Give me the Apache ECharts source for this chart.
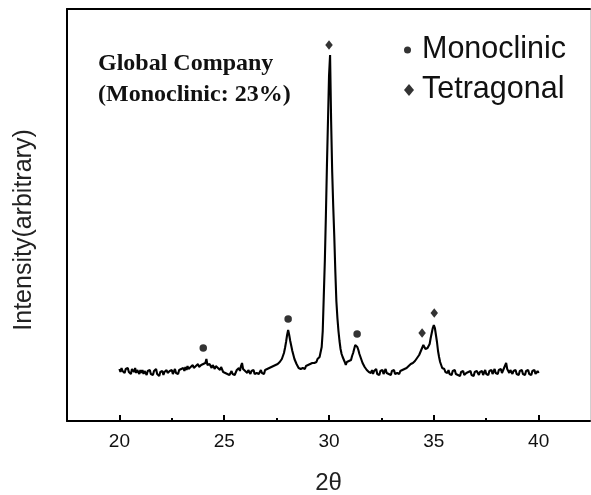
<!DOCTYPE html>
<html>
<head>
<meta charset="utf-8">
<script src="https://cdn.jsdelivr.net/npm/echarts@6/dist/echarts.min.js"></script>
<style>
  html, body { margin: 0; padding: 0; background: #fff; }
  #chart { width: 591px; height: 495px; }
</style>
</head>
<body>
<div id="chart"></div>
<script>
// XRD scan: 2θ from 20° to 40° in 0.05° steps, intensity in arbitrary units
const scanStart = 20;
const scanStep = 0.05;
const intensity = [
  52,49,53,50,51,48,52,50,53,49,51,47,52,50,49,53,48,51,50,47,   // 20
  51,48,51,47,50,49,46,50,48,51,47,49,46,50,48,52,47,49,45,49,   // 21
  48,50,46,49,47,51,48,46,50,48,51,47,49,52,48,50,47,51,49,52,   // 22
  50,53,50,54,51,55,52,50,54,52,56,53,51,55,53,57,54,52,56,54,   // 23
  57,55,58,62,56,54,57,55,53,56,54,52,55,57,53,55,51,54,52,49,   // 24
  51,48,50,47,49,46,48,50,47,49,46,48,51,49,53,50,55,58,52,54,   // 25
  50,52,48,51,49,47,50,48,51,47,49,48,50,47,49,51,48,50,47,51,   // 26
  49,52,50,53,51,54,52,55,53,56,54,57,56,59,58,62,64,68,73,79,   // 27
  86,91,86,80,75,70,66,62,60,57,55,53,55,52,54,53,55,52,55,54,   // 28
  56,54,57,55,58,57,58,60,59,62,61,64,66,74,90,125,160,205,255,300, // 29
  345,366,300,250,215,185,150,120,103,90,80,72,67,64,62,59,56,59,57,60, // 30
  62,61,65,68,72,76,78,74,71,67,64,61,58,56,54,53,51,52,49,51,   // 31
  48,51,47,50,48,52,47,49,46,50,48,51,47,49,52,48,50,47,49,46,   // 32
  50,48,51,47,49,48,50,47,50,48,51,49,52,50,53,51,55,54,57,55,   // 33
  58,57,60,59,63,62,66,68,71,73,76,75,72,70,73,71,77,83,88,93,   // 34
  96,93,86,79,70,64,59,56,53,51,52,49,50,48,51,47,49,46,50,48,   // 35
  51,47,49,46,48,45,49,47,50,46,44,48,46,49,47,50,46,48,45,49,   // 36
  47,50,48,46,49,47,50,46,48,51,47,49,46,50,48,51,47,49,52,48,   // 37
  50,47,51,49,52,48,50,53,55,58,52,50,48,51,49,47,50,48,51,47,   // 38
  49,46,50,48,51,47,49,46,50,48,51,47,49,46,50,48,51,47,49,50,   // 39
  48                                                             // 40
];
const twoTheta = intensity.map((_, i) => +(scanStart + i * scanStep).toFixed(2));

// Phase markers placed just above the reflections
const monoclinicPeaks = [[24.0, 73], [28.05, 102], [31.34, 87]];
const tetragonalPeaks = [[30.0, 376], [34.44, 88], [35.02, 108]];

// Axis ticks
const majorTicks = [20, 25, 30, 35, 40];
const minorTicks = [22.5, 27.5, 32.5, 37.5];

const chart = echarts.init(document.getElementById('chart'), null, { renderer: 'canvas' });

const sans = "'Liberation Sans', Arial, sans-serif";
const serif = "'Liberation Serif', 'Times New Roman', serif";
const xMin = 17.5, xMax = 42.45;

chart.setOption({
  animation: false,
  backgroundColor: '#fff',
  title: {
    text: 'Global Company\n(Monoclinic: 23%)',
    left: 98,
    top: 48,
    padding: 0,
    textStyle: { fontFamily: serif, fontWeight: 'bold', fontSize: 24, lineHeight: 31, color: '#111' }
  },
  legend: [
    {
      data: [{ name: 'Monoclinic', icon: 'circle' }],
      left: 404, top: 31, padding: 0, orient: 'vertical',
      itemWidth: 7, itemHeight: 7, selectedMode: false,
      textStyle: { fontFamily: sans, fontSize: 30.5, color: '#111', lineHeight: 30, padding: [0, 0, 8, 6] }
    },
    {
      data: [{ name: 'Tetragonal', icon: 'diamond' }],
      left: 404, top: 71, padding: 0, orient: 'vertical',
      itemWidth: 10, itemHeight: 12, selectedMode: false,
      textStyle: { fontFamily: sans, fontSize: 30.5, color: '#111', lineHeight: 30, padding: [0, 0, 8, 3] }
    }
  ],
  grid: { left: 67, right: 1, top: 9, bottom: 74, containLabel: false, outerBoundsMode: 'none' },
  xAxis: [
    {
      type: 'value', min: xMin, max: xMax, position: 'bottom',
      name: '2θ', nameLocation: 'middle', nameGap: 50,
      nameTextStyle: { fontFamily: sans, fontSize: 24, color: '#222' },
      axisLine: { show: true, onZero: false, lineStyle: { color: '#000', width: 2 } },
      axisTick: { show: true, inside: true, length: 6, customValues: majorTicks, lineStyle: { color: '#000', width: 2 } },
      axisLabel: { show: true, customValues: majorTicks, margin: 11, fontFamily: sans, fontSize: 19, color: '#111' },
      splitLine: { show: false }
    },
    {
      type: 'value', min: xMin, max: xMax, position: 'bottom',
      axisLine: { show: false },
      axisTick: { show: true, inside: true, length: 3, customValues: minorTicks, lineStyle: { color: '#000', width: 2 } },
      axisLabel: { show: false },
      splitLine: { show: false }
    },
    {
      type: 'value', min: xMin, max: xMax, position: 'top',
      axisLine: { show: true, onZero: false, lineStyle: { color: '#000', width: 2 } },
      axisTick: { show: false }, axisLabel: { show: false }, splitLine: { show: false }
    }
  ],
  yAxis: [
    {
      type: 'value', min: 0, max: 412, position: 'left',
      name: 'Intensity(arbitrary)', nameLocation: 'middle', nameGap: 30, nameRotate: 90,
      nameTextStyle: { fontFamily: sans, fontSize: 25, color: '#222', padding: [0, 30, 0, 0] },
      axisLine: { show: true, onZero: false, lineStyle: { color: '#000', width: 2 } },
      axisTick: { show: false }, axisLabel: { show: false }, splitLine: { show: false }
    },
    {
      type: 'value', min: 0, max: 412, position: 'right',
      axisLine: { show: true, onZero: false, lineStyle: { color: '#d0d0d0', width: 1 } },
      axisTick: { show: false }, axisLabel: { show: false }, splitLine: { show: false }
    }
  ],
  series: [
    {
      name: 'scan',
      type: 'line',
      xAxisIndex: 0, yAxisIndex: 0,
      data: twoTheta.map((t, i) => [t, intensity[i]]),
      showSymbol: false,
      symbol: 'none',
      lineStyle: { color: '#000', width: 2.1 },
      silent: true,
      z: 2
    },
    {
      name: 'Monoclinic',
      type: 'scatter',
      data: monoclinicPeaks,
      symbol: 'circle',
      symbolSize: 7.5,
      itemStyle: { color: '#000' },
      z: 3
    },
    {
      name: 'Tetragonal',
      type: 'scatter',
      data: tetragonalPeaks,
      symbol: 'diamond',
      symbolSize: [7.5, 9.5],
      itemStyle: { color: '#000' },
      z: 3
    }
  ]
});
</script>
</body>
</html>
